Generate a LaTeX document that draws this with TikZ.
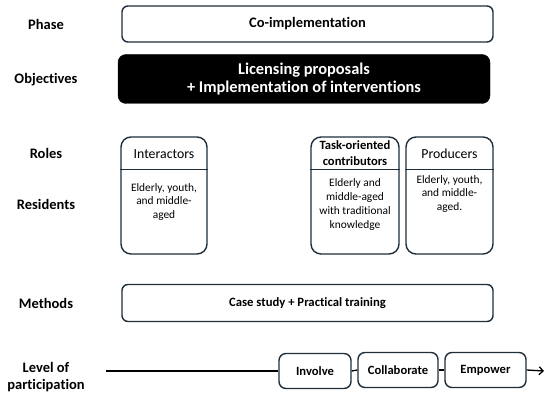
\documentclass[tikz,border=0pt]{standalone}
\usepackage{fontspec}
\setmainfont{Carlito}[Ligatures=NoCommon]
\usetikzlibrary{calc,arrows.meta}
\definecolor{edgec}{HTML}{1E2E3A}
\tikzset{
  rowlabel/.style={font=\fontsize{14.5}{17.5}\selectfont\bfseries, align=center, inner sep=0pt},
  widebox/.style={draw=edgec, line width=1.4pt, rounded corners=6pt, inner sep=0pt},
  blackbox/.style={fill=black, draw=black, rounded corners=8pt, inner sep=0pt, text=white,
    font=\fontsize{16.4}{17.5}\selectfont\bfseries, align=center},
  rolebox/.style={draw=edgec, line width=1.4pt, rounded corners=10pt, inner sep=0pt, minimum height=117pt},
  rolehead/.style={font=\fontsize{13.8}{16}\selectfont, align=center, inner sep=0pt},
  rolebody/.style={font=\fontsize{11.4}{13.3}\selectfont, align=center, inner sep=0pt},
  levelbox/.style={draw=edgec, line width=1.4pt, rounded corners=7pt, inner sep=0pt,
    minimum height=35pt, font=\fontsize{12.6}{14}\selectfont\bfseries},
  conn/.style={draw=black, line width=1.3pt}
}
\begin{document}
\begin{tikzpicture}[x=1pt,y=-1pt]
\useasboundingbox (0,0) rectangle (550,401);
% left labels
\node[rowlabel] (lphase) at (46,24) {Phase};
\node[rowlabel] (lobj) at (46,80) {Objectives};
\node[rowlabel] (lroles) at (46,153) {Roles};
\node[rowlabel] (lres) at (46,204) {Residents};
\node[rowlabel] (lmeth) at (46,303) {Methods};
\node[rowlabel] (llevel) at (46,377) {Level of\\participation};
% phase
\node[widebox, minimum width=371pt, minimum height=36pt, font=\fontsize{14.5}{16}\selectfont\bfseries] (phase) at (307.5,24) {Co-implementation};
% objectives
\node[blackbox, minimum width=372pt, minimum height=49pt] (obj) at (304,79) {Licensing proposals\\+ Implementation of interventions};
% roles
\node[rolebox, minimum width=86pt] (inter) at (164,195.5) {};
\node[rolebox, minimum width=88pt] (task) at (355,195.5) {};
\node[rolebox, minimum width=87pt] (prod) at (449.5,195.5) {};
\draw[edgec, line width=1.4pt] ($(inter.north west)+(0,33)$) -- ($(inter.north east)+(0,33)$);
\draw[edgec, line width=1.4pt] ($(task.north west)+(0,33)$) -- ($(task.north east)+(0,33)$);
\draw[edgec, line width=1.4pt] ($(prod.north west)+(0,33)$) -- ($(prod.north east)+(0,33)$);
\node[rolehead] (interh) at (164,154) {Interactors};
\node[rolehead, font=\fontsize{12.6}{16}\selectfont\bfseries] (taskh) at (355,153.5) {Task-oriented\\contributors};
\node[rolehead] (prodh) at (449.5,154) {Producers};
\node[rolebody] (interb) at (164,202) {Elderly, youth,\\and middle-\\aged};
\node[rolebody, font=\fontsize{11.4}{13.7}\selectfont] (taskb) at (355,204.5) {Elderly and\\middle-aged\\with traditional\\knowledge};
\node[rolebody] (prodb) at (449.5,194) {Elderly, youth,\\and middle-\\aged.};
% methods
\node[widebox, minimum width=371pt, minimum height=37pt, font=\fontsize{12.7}{14}\selectfont\bfseries] (meth) at (307.5,303) {Case study + Practical training};
% level of participation
\coordinate (lstart) at (106,371);
\coordinate (lend) at (544,371);
\node[levelbox, minimum width=72pt] (inv) at (315,371) {Involve};
\node[levelbox, minimum width=80pt] (col) at (398,370) {Collaborate};
\node[levelbox, minimum width=81pt] (emp) at (485.5,370) {Empower};
\draw[conn] (lstart) -- (inv.west);
\draw[conn] (inv.east) -- (col.west);
\draw[conn] (col.east) -- (emp.west);
\draw[conn, -{Straight Barb[length=4pt,width=8pt]}] (emp.east) -- (lend);
\end{tikzpicture}
\end{document}
